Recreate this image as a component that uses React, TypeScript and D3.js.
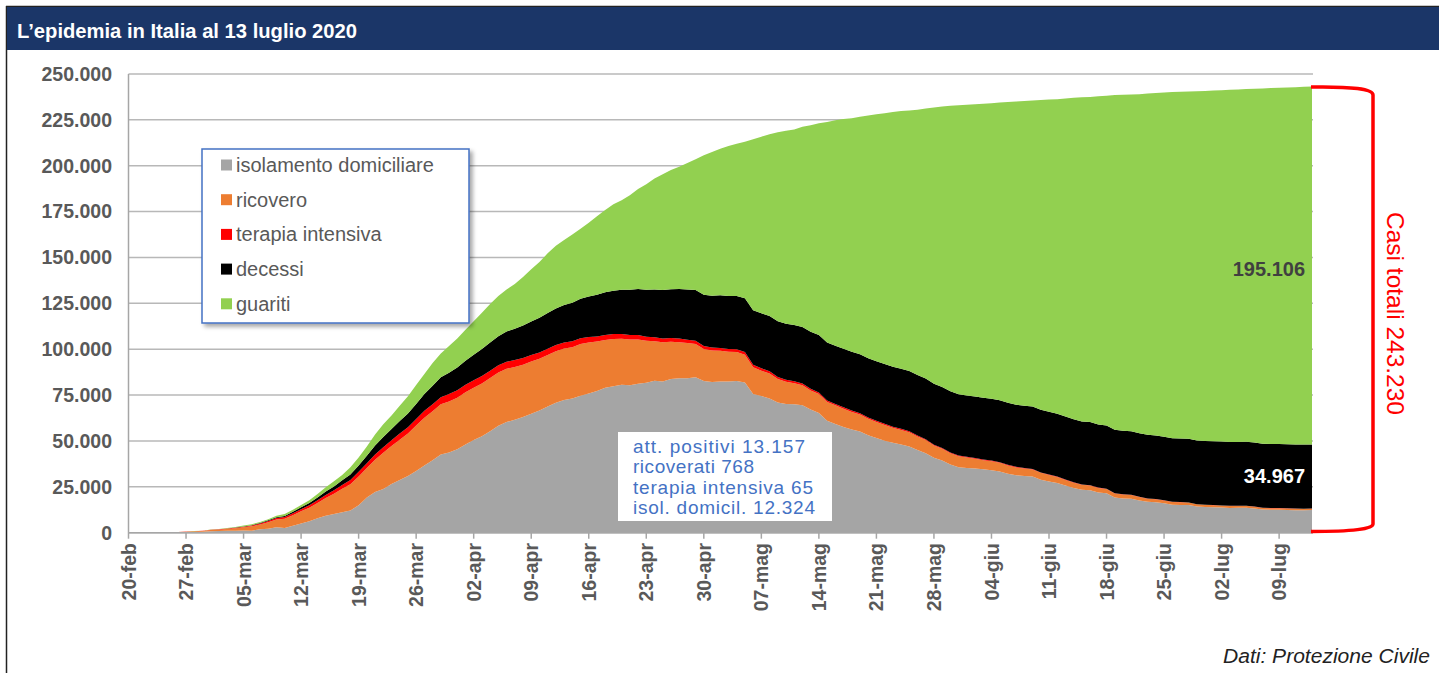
import React from 'react';
import * as d3 from 'd3';

// giorni dal 24-feb al 13-lug 2020
const startDay = new Date(2020, 1, 24);
const endDay = new Date(2020, 6, 13);
const days = d3.timeDay.range(startDay, d3.timeDay.offset(endDay, 1));

const isolamento = [
  94, 162, 221, 284, 412, 543,
  798, 927, 1000, 1065, 1155, 1060, 1843, 2180, 2936, 2599, 3724, 5036, 6201, 7860, 9268, 10197, 11108, 12090, 14935, 19185, 22116, 23783, 26522, 28697, 30920, 33648, 36653, 39533, 42588, 43752, 45420,
  48134, 50456, 52579, 55270, 58320, 60313, 61557, 63084, 64873, 66534, 68744, 70887, 72333, 73094, 74696, 75833, 77257, 79030, 79837, 80657, 80332, 81181, 81710, 82821, 82373, 83741, 84135, 84132, 84713, 82722,
  82123, 82342, 82408, 82732, 81866, 75559, 74479, 73175, 70943, 70125, 70036, 69522, 67164, 65274, 61055, 59225, 57598, 56180, 55144, 53119, 51625, 50114, 48995, 48124, 47030, 45042, 43367, 40817, 39313, 37142, 35724,
  35201, 34983, 34538, 34095, 33384, 32102, 31270, 30848, 30574, 28876, 27885, 27109, 25755, 24409, 23366, 23144, 21927, 21475, 19210, 18691, 18536, 17584, 16819, 16659, 16029, 15255, 15146, 15051, 14225, 14042,
  13893, 13765, 13510, 13543, 13663, 13223, 12610, 12487, 12506, 12404, 12303, 12249, 12324,
];
const ricovero = [
  101, 114, 128, 248, 345, 401,
  639, 742, 1034, 1346, 1790, 2394, 2651, 3557, 4316, 5038, 5838, 6650, 7426, 8372, 9663, 11025, 12894, 14363, 15757, 16020, 17708, 19846, 20692, 21937, 23112, 24753, 26029, 26676, 27386, 27795, 28192,
  28403, 28540, 28741, 29010, 28949, 28976, 28718, 28485, 28399, 28242, 28144, 28023, 28011, 28023, 28144, 27847, 26893, 26007, 25786, 25007, 24906, 24134, 22871, 21533, 21372, 20353, 19723, 19210, 18149, 17357,
  17242, 16823, 16270, 15769, 15174, 14636, 13834, 13618, 12865, 12172, 11453, 10792, 10400, 10311, 10207, 10187, 9991, 9624, 9269, 8957, 8695, 8613, 8185, 7917, 7729, 7379, 7094, 6680, 6387, 6099, 5916,
  5742, 5301, 5002, 4864, 4729, 4581, 4320, 4131, 3893, 3747, 3589, 3301, 3022, 2867, 2701, 2575, 2474, 2289, 2181, 2133, 1974, 1874, 1729, 1541, 1515, 1494, 1458, 1358, 1256, 1134,
  1090, 1047, 1040, 1025, 975, 951, 916, 906, 858, 834, 812, 786, 768,
];
const terapiaIntensiva = [
  26, 35, 36, 56, 64, 105,
  140, 166, 229, 295, 351, 462, 567, 650, 733, 877, 1028, 1153, 1328, 1518, 1672, 1851, 2060, 2257, 2498, 2655, 2857, 3009, 3204, 3396, 3489, 3612, 3732, 3856, 3906, 3981, 4023,
  4035, 4053, 4068, 3994, 3977, 3898, 3792, 3693, 3605, 3497, 3381, 3343, 3260, 3186, 3079, 2936, 2812, 2733, 2635, 2573, 2471, 2384, 2267, 2173, 2102, 2009, 1956, 1863, 1795, 1694,
  1578, 1539, 1501, 1479, 1427, 1333, 1311, 1168, 1034, 1027, 999, 952, 893, 855, 808, 775, 762, 749, 716, 676, 640, 595, 572, 553, 541, 521, 505, 489, 475, 450, 435,
  424, 408, 353, 338, 316, 293, 287, 283, 263, 249, 236, 227, 220, 209, 207, 190, 168, 161, 152, 148, 127, 115, 107, 103, 94, 87, 77, 87, 82, 79,
  77, 72, 71, 74, 71, 68, 69, 66, 64, 65, 64, 65, 65,
];
const decessi = [
  7, 10, 12, 17, 21, 29,
  34, 52, 79, 107, 148, 197, 233, 366, 463, 631, 827, 1016, 1266, 1441, 1809, 2158, 2503, 2978, 3405, 4032, 4825, 5476, 6077, 6820, 7503, 8165, 9134, 10023, 10779, 11591, 12428,
  13155, 13915, 14681, 15362, 15887, 16523, 17127, 17669, 18279, 18849, 19468, 19899, 20465, 21067, 21645, 22170, 22745, 23227, 23660, 24114, 24648, 25085, 25549, 25969, 26384, 26644, 26977, 27359, 27682, 27967,
  28236, 28710, 28884, 29079, 29315, 29684, 29958, 30201, 30395, 30560, 30739, 30911, 31106, 31368, 31610, 31763, 31908, 32007, 32169, 32330, 32486, 32616, 32735, 32785, 32877, 32955, 33072, 33142, 33229, 33340, 33415,
  33475, 33530, 33601, 33689, 33774, 33846, 33899, 33964, 34043, 34114, 34167, 34223, 34301, 34345, 34371, 34405, 34448, 34514, 34561, 34610, 34634, 34657, 34675, 34644, 34678, 34708, 34716, 34738, 34744, 34767,
  34788, 34818, 34833, 34854, 34861, 34869, 34899, 34914, 34926, 34938, 34945, 34954, 34967,
];
const guariti = [
  1, 1, 3, 45, 46, 50,
  83, 149, 160, 276, 414, 523, 589, 622, 724, 1004, 1045, 1258, 1439, 1966, 2335, 2749, 2941, 4025, 4440, 5129, 6072, 7024, 7432, 8326, 9362, 10361, 10950, 12384, 13030, 14620, 15729,
  16847, 18278, 19758, 20996, 21815, 22837, 24392, 26491, 28470, 30455, 32534, 34211, 35435, 37130, 38092, 40164, 42727, 44927, 47055, 48877, 51600, 54543, 57576, 60498, 63120, 64928, 66624, 68941, 71252, 75945,
  78249, 79914, 81654, 82879, 85231, 93245, 96276, 99023, 103031, 105186, 106587, 109039, 112541, 115288, 120205, 122810, 125176, 127326, 129401, 132282, 134560, 136720, 138840, 140479, 141981, 144658, 147101, 150604, 152844, 155633, 157529,
  158355, 159293, 160342, 161027, 162328, 163979, 165222, 166052, 166788, 168777, 170265, 171445, 173353, 175159, 176645, 177186, 178811, 179720, 182395, 183138, 183562, 184729, 186080, 186759, 187645, 188592, 188913, 189202, 190271, 190738,
  191113, 191482, 191965, 192115, 192249, 192845, 193655, 193990, 194146, 194398, 194703, 195007, 195106,
];

const seriesKeys = ['isolamento', 'ricovero', 'terapia', 'decessi', 'guariti'];
const seriesLabels = ['isolamento domiciliare', 'ricovero', 'terapia intensiva', 'decessi', 'guariti'];
const seriesColors = ['#a5a5a5', '#ed7d31', '#ff0000', '#000000', '#92d050'];

const yTicks = [0, 25000, 50000, 75000, 100000, 125000, 150000, 175000, 200000, 225000, 250000];
const mesi = ['gen', 'feb', 'mar', 'apr', 'mag', 'giu', 'lug'];

const noteLines = ['att. positivi 13.157', 'ricoverati 768', 'terapia intensiva 65', 'isol. domicil. 12.324'];
const noteWidths = [172, 121, 180, 182];

const W = 1439;
const H = 673;
const font = '"Liberation Sans", Arial, sans-serif';

const rows = days.map((d, i) => ({
  date: d,
  isolamento: isolamento[i],
  ricovero: ricovero[i],
  terapia: terapiaIntensiva[i],
  decessi: decessi[i],
  guariti: guariti[i],
}));

const fmt = (v: number) => d3.format(',')(v).replace(/,/g, '.');

export default function App() {
  const x = d3.scaleTime()
    .domain([new Date(2020, 1, 20), endDay])
    .range([128.5, 1312]);
  const y = d3.scaleLinear().domain([0, 250000]).range([532.7, 74]);

  const stacked = d3.stack<any>().keys(seriesKeys)(rows);
  const area = d3.area<any>()
    .x(d => x(d.data.date))
    .y0(d => y(d[0]))
    .y1(d => y(d[1]));

  const xTicks = d3.timeDay.range(new Date(2020, 1, 20), d3.timeDay.offset(endDay, 1), 7);
  const xLabel = (d: Date) => d3.timeFormat('%d')(d) + '-' + mesi[d.getMonth()];

  return (
    <svg width={W} height={H} style={{ position: 'absolute', left: 0, top: 0, background: '#fff' }}>
      <defs>
        <filter id="shadow" x="-10%" y="-10%" width="130%" height="130%">
          <feDropShadow dx="3" dy="3" stdDeviation="2" floodColor="#000" floodOpacity="0.35" />
        </filter>
      </defs>

      {/* cornice e titolo */}
      <line x1={6.5} x2={6.5} y1={6} y2={H} stroke="#222" strokeWidth={1.5} />
      <line x1={6} x2={W} y1={6.5} y2={6.5} stroke="#222" strokeWidth={1.5} />
      <rect x={7} y={7} width={W - 7} height={43} fill="#1b3668" />
      <text x={17} y={37.5} fill="#fff" fontFamily='"Liberation Sans Narrow", "Arial Narrow", Arial, sans-serif'
        fontWeight="bold" fontSize={21} textLength={340} lengthAdjust="spacingAndGlyphs">
        L’epidemia in Italia al 13 luglio 2020
      </text>

      {/* griglia */}
      {yTicks.map(t => (
        <line key={t} x1={128.5} x2={1313} y1={y(t)} y2={y(t)} stroke="#b8b8b8" strokeWidth={1.5} />
      ))}

      {/* aree */}
      {stacked.map((s, i) => (
        <path key={s.key} d={area(s) || ''} fill={seriesColors[i]} />
      ))}

      {/* assi */}
      <line x1={128.5} x2={128.5} y1={y(250000)} y2={y(0)} stroke="#a6a6a6" strokeWidth={1.5} />
      <line x1={128.5} x2={1313} y1={y(0)} y2={y(0)} stroke="#a6a6a6" strokeWidth={1.5} />
      {xTicks.map(t => (
        <line key={+t} x1={x(t)} x2={x(t)} y1={y(0)} y2={y(0) + 6} stroke="#a6a6a6" strokeWidth={1.5} />
      ))}
      {yTicks.map(t => (
        <text key={t} x={112} y={y(t)} dy="0.35em" textAnchor="end" fontFamily={font} fontWeight="bold"
          fontSize={19.5} fill="#595959">{fmt(t)}</text>
      ))}
      {xTicks.map(t => (
        <text key={+t} transform={`translate(${x(t)},543) rotate(-90)`} dy="0.36em" textAnchor="end"
          fontFamily={font} fontWeight="bold" fontSize={19.5} fill="#595959">{xLabel(t)}</text>
      ))}

      {/* legenda */}
      <rect x={202} y={149} width={267} height={174} fill="#fff" stroke="#4472c4" strokeWidth={1.5} filter="url(#shadow)" />
      {seriesLabels.map((l, i) => (
        <g key={l} transform={`translate(221,${165 + i * 34.7})`}>
          <rect x={0} y={-5.5} width={11} height={11} fill={seriesColors[i]} />
          <text x={15} y={0} dy="0.35em" fontFamily={font} fontSize={20} fill="#595959">{l}</text>
        </g>
      ))}

      {/* nota valori attuali */}
      <rect x={618} y={432} width={214} height={89} fill="#fff" />
      {noteLines.map((l, i) => (
        <text key={l} x={633} y={453 + i * 20.3} fontFamily={font} fontSize={19} fill="#4472c4"
          textLength={noteWidths[i]} lengthAdjust="spacing">{l}</text>
      ))}

      {/* etichette valori */}
      <text x={1305} y={276} textAnchor="end" fontFamily={font} fontWeight="bold" fontSize={20} fill="#404040">
        {fmt(guariti[guariti.length - 1])}
      </text>
      <text x={1305} y={483} textAnchor="end" fontFamily={font} fontWeight="bold" fontSize={20} fill="#fff">
        {fmt(decessi[decessi.length - 1])}
      </text>

      {/* parentesi casi totali */}
      <path d="M1311,87 Q1373,86 1373,95 L1373,524 Q1373,531.5 1311,531.5" fill="none" stroke="#ff0000" strokeWidth={3.5} />
      <text transform="translate(1387,313.5) rotate(90)" textAnchor="middle" fontFamily={font} fontSize={24}
        fill="#ff0000" textLength={203} lengthAdjust="spacingAndGlyphs">Casi totali 243.230</text>

      <text x={1430} y={663} textAnchor="end" fontFamily={font} fontStyle="italic" fontSize={20} fill="#222"
        textLength={207} lengthAdjust="spacingAndGlyphs">Dati: Protezione Civile</text>
    </svg>
  );
}
